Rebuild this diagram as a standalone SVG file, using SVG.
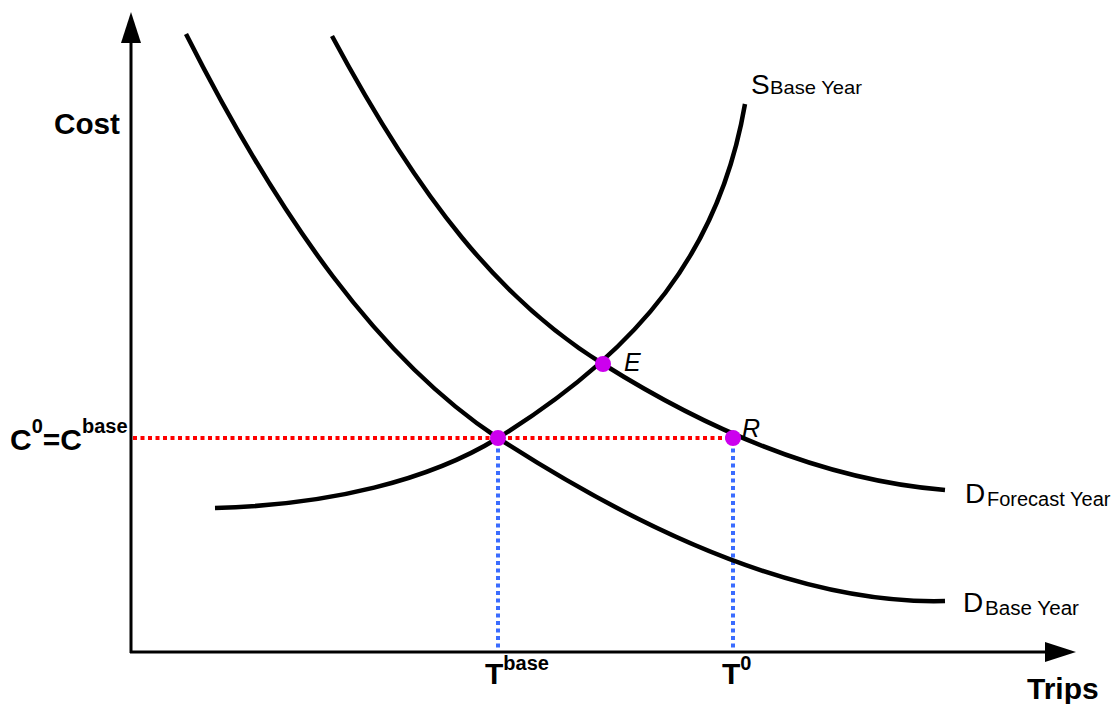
<svg xmlns="http://www.w3.org/2000/svg" width="1116" height="704" viewBox="0 0 1116 704">
<style>
.ax{stroke:#000;stroke-width:3;fill:none}
.cv{stroke:#000;stroke-width:4.5;fill:none;stroke-linecap:butt}
.red{stroke:#ff0000;stroke-width:4;stroke-dasharray:4 3.5;fill:none}
.blue{stroke:#3a6cff;stroke-width:4;stroke-dasharray:4 3.5;fill:none}
.pt{fill:#cc00ee}
.b{font-family:"Liberation Sans",Arial,sans-serif;font-weight:bold;fill:#000}
.n{font-family:"Liberation Sans",Arial,sans-serif;fill:#000}
</style>
<rect width="1116" height="704" fill="#fff"/>
<g id="axes">
<line class="ax" x1="131" y1="653" x2="131" y2="40"/>
<polygon points="131,12 121,43 141,43" fill="#000"/>
<line class="ax" x1="130" y1="652" x2="1048" y2="652"/>
<polygon points="1076,652 1045,642 1045,662" fill="#000"/>
<text class="b" x="54" y="134" font-size="29" textLength="66" lengthAdjust="spacingAndGlyphs">Cost</text>
<text class="b" x="1027" y="699" font-size="30">Trips</text>
</g>
<g id="guides">
<line class="red" x1="133" y1="438" x2="733" y2="438"/>
<line class="blue" x1="498" y1="441" x2="498" y2="651"/>
<line class="blue" x1="733" y1="441" x2="733" y2="651"/>
</g>
<g id="curves">
<path id="d-base" class="cv" d="M186,34 C280,220 380,360 498,438 C640,530 800,605 945,601"/>
<path id="d-forecast" class="cv" d="M332,36 C420,200 500,300 603,364 C700,425 820,480 945,490"/>
<path id="s-base" class="cv" d="M215,508 C330,505 430,480 498,438 C640,350 720,250 745,104"/>
</g>
<g id="points">
<circle class="pt" cx="498" cy="438" r="8"/>
<circle class="pt" cx="603" cy="364" r="8"/>
<circle class="pt" cx="733" cy="438" r="8"/>
</g>
<g id="labels">
<text class="n" x="624" y="371" font-size="25" font-style="italic">E</text>
<text class="n" x="742" y="437" font-size="25" font-style="italic">R</text>
<text class="n" x="751" y="94" font-size="28">S<tspan font-size="19" x="770" textLength="92" lengthAdjust="spacingAndGlyphs">Base Year</tspan></text>
<text class="n" x="965" y="503" font-size="28">D<tspan font-size="20" x="987" y="506">Forecast Year</tspan></text>
<text class="n" x="963" y="612" font-size="28">D<tspan font-size="20" x="985" y="615" textLength="94" lengthAdjust="spacingAndGlyphs">Base Year</tspan></text>
<text class="b" x="10" y="450" font-size="30">C<tspan font-size="20" dy="-17">0</tspan><tspan dy="17">=C</tspan><tspan font-size="20" dy="-17">base</tspan></text>
<text class="b" x="485" y="684" font-size="30">T<tspan font-size="20" dy="-14">base</tspan></text>
<text class="b" x="722" y="684" font-size="30">T<tspan font-size="20" dy="-14">0</tspan></text>
</g>
</svg>
